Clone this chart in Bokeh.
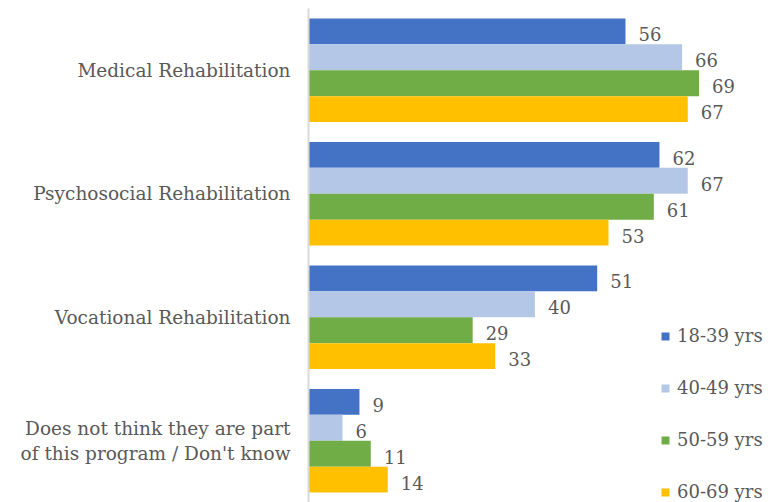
from bokeh.plotting import figure
from bokeh.models import ColumnDataSource, Range1d, FixedTicker, Legend, LegendItem
from bokeh.core.properties import value
from bokeh.embed import file_html
from bokeh.resources import INLINE

categories = ["Medical Rehabilitation", "Psychosocial Rehabilitation", "Vocational Rehabilitation",
              "Does not think they are part\nof this program / Don't know"]
series_names = ["18-39 yrs", "40-49 yrs", "50-59 yrs", "60-69 yrs"]
v_18_39 = [56, 62, 51, 9]
v_40_49 = [66, 67, 40, 6]
v_50_59 = [69, 61, 29, 11]
v_60_69 = [67, 53, 33, 14]
colors = ["#4472C4", "#B4C7E7", "#70AD47", "#FFC000"]

FONT = "DejaVu Serif"
GRAY = "#595959"

p = figure(width=775, height=502, output_backend="svg", toolbar_location=None,
           x_range=Range1d(0, 82.5), y_range=Range1d(3.5, -0.5),
           min_border_left=308, min_border_right=0, min_border_top=8, min_border_bottom=0)
p.outline_line_color = None
p.xgrid.visible = False
p.ygrid.visible = False
p.xaxis.visible = False

bar_h = 0.21
offsets = [-1.5 * bar_h, -0.5 * bar_h, 0.5 * bar_h, 1.5 * bar_h]
all_vals = [v_18_39, v_40_49, v_50_59, v_60_69]
items = []
for name, vals, col, off in zip(series_names, all_vals, colors, offsets):
    src = ColumnDataSource(dict(y=[i + off for i in range(len(categories))], x=vals,
                                lab=[str(v) for v in vals]))
    r = p.hbar(y="y", right="x", left=0, height=bar_h, source=src, fill_color=col, line_color=None)
    p.text(x="x", y="y", text="lab", source=src, x_offset=13, y_offset=3,
           text_baseline="middle", text_align="left", text_font=value(FONT),
           text_font_size="18px", text_color=GRAY)
    items.append(LegendItem(label=name, renderers=[r]))

yax = p.yaxis[0]
yax.ticker = FixedTicker(ticks=[0, 1, 2, 3])
yax.major_label_overrides = {i: c for i, c in enumerate(categories)}
yax.major_tick_line_color = None
yax.minor_tick_line_color = None
yax.axis_line_color = "#D9D9D9"
yax.axis_line_width = 2
yax.major_label_text_font = FONT
yax.major_label_text_font_size = "18.5px"
yax.major_label_text_color = GRAY
yax.major_label_standoff = 12

legend = Legend(items=items, location=(352, 0), orientation="vertical",
                glyph_width=10, glyph_height=10, label_height=20, spacing=31,
                label_standoff=7, padding=0, margin=0,
                label_text_font=FONT, label_text_font_size="18px", label_text_color=GRAY,
                background_fill_alpha=0, border_line_color=None)
p.add_layout(legend, "center")

open("out.html", "w").write(file_html(p, INLINE))
